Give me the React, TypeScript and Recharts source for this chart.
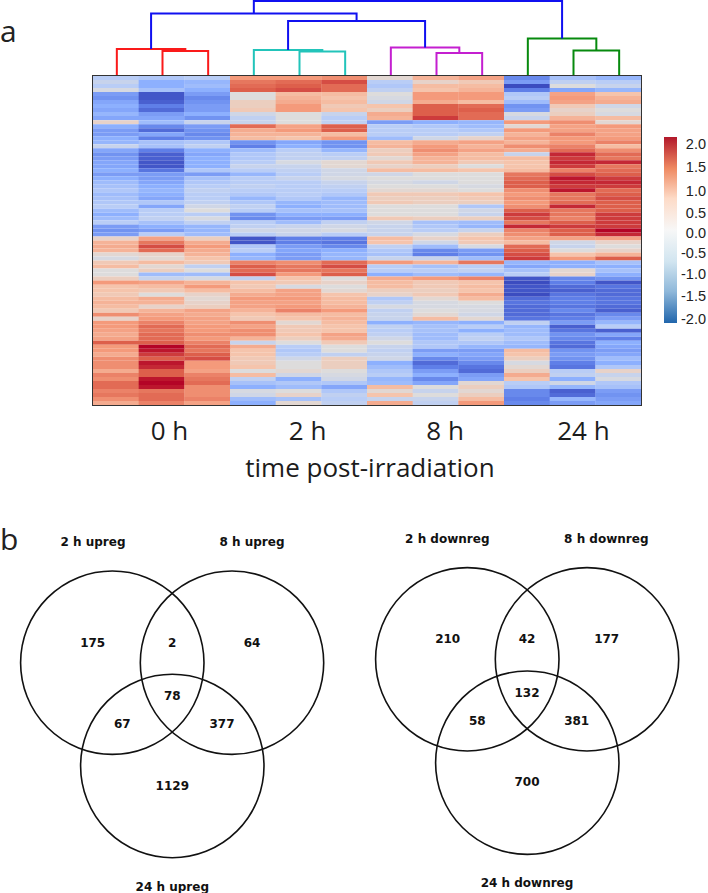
import React from 'react';
import { BarChart, Bar, Cell, LineChart, Line, ScatterChart, Scatter, XAxis, YAxis } from 'recharts';

// heatmap rows, top to bottom, three replicates per time point (z-score)
const values0h = [
  [-0.5,-0.6,-0.5],[-0.3,-1.0,-0.9],[-0.5,-1.0,-0.8],[-0.1,-0.7,-1.0],[-1.2,-1.9,-1.2],[-1.3,-1.9,-1.4],[-1.1,-1.8,-1.3],[-1.0,-1.5,-1.2],[-1.1,-1.7,-1.2],[-0.9,-1.2,-1.0],
  [-1.1,-1.1,-1.3],[0.2,-0.8,-0.3],[-1.0,-1.4,-1.2],[-1.2,-1.7,-1.3],[-1.2,-1.1,-1.4],[-1.0,-1.5,-1.3],[-0.9,-0.7,-0.6],[-0.3,-0.7,-0.4],[-1.1,-1.5,-1.0],[-1.3,-1.8,-1.1],
  [-1.2,-1.8,-1.0],[-1.1,-1.9,-1.0],[-1.1,-1.9,-1.0],[-1.0,-1.6,-0.6],[-1.2,-1.2,-1.2],[-1.0,-1.2,-0.7],[-0.8,-1.1,-0.6],[-0.7,-1.0,-0.5],[-0.6,-0.9,-0.4],[-0.8,-1.0,-0.5],
  [-0.7,-1.1,-0.5],[-0.6,-0.6,-0.4],[-0.5,-1.1,-0.2],[-0.8,-0.5,0],[-1.0,-0.5,-0.5],[-0.8,-0.4,-0.1],[-0.5,-0.7,-0.4],[-1.2,-1.0,-0.9],[-1.3,-1.2,-0.9],[-1.2,-0.5,-0.8],
  [0.2,0.9,0.3],[0.7,1.3,0.8],[0.8,1.6,1.0],[0.7,1.4,0.8],[0.1,0.2,0.7],[-0.1,0.1,0.5],[0.4,0.6,0.4],[0.6,0.1,-0.4],[0,0.3,0],[0,-0.8,-0.8],
  [0.3,-0.3,-0.1],[1.0,0.9,0.7],[0.5,0.6,1.0],[0.5,0.4,0.6],[0.4,0,0.2],[0.6,0.8,0.1],[0.7,0.7,0.2],[0.6,0.2,0.3],[0.4,0.7,0.9],[1.1,0.9,0.8],
  [0.2,1.0,0.9],[1.0,1.2,0.9],[1.0,1.4,1.0],[0.9,1.3,1.0],[0.8,1.4,1.1],[0.9,1.4,1.0],[1.5,1.5,1.2],[1.0,2.0,1.4],[1.0,1.9,1.3],[0.8,1.7,1.5],
  [1.1,1.5,1.6],[1.1,1.9,1.0],[1.1,1.8,1.0],[0.8,1.5,0.9],[1.2,1.5,1.2],[1.1,1.9,1.3],[1.4,2.0,1.4],[1.4,1.9,1.1],[1.2,1.3,1.1],[1.3,1.4,1.1],
  [1.1,1.4,1.2],[0.8,1.2,0.9],
];
const values2h = [
  [1.0,1.0,1.1],[1.3,1.4,1.6],[1.4,1.5,1.4],[1.5,1.6,1.4],[0,0.6,0.6],[0,0.7,0.5],[0.3,0.8,0.6],[0.3,1.0,0.4],[0.4,1.0,0.5],[-0.2,0,-0.3],
  [-0.4,0,-0.5],[-0.3,0,-0.4],[1.4,0.9,1.5],[0.8,1.0,1.5],[0.7,0.7,0.6],[0.6,0.5,1.0],[-1.3,-1.1,-1.3],[-1.5,-1.0,-1.3],[-0.8,-0.5,-0.9],[-0.6,-0.4,-0.5],
  [-0.6,-0.4,-0.4],[-0.5,-0.1,0.1],[-0.3,-0.3,0.1],[-0.5,-0.4,-0.2],[-0.9,-0.5,-0.2],[-0.5,-0.3,-0.1],[-0.5,-0.5,-0.3],[-0.4,-0.5,-0.4],[-0.5,-0.5,-0.5],[-0.6,-0.5,-0.6],
  [-0.9,-0.6,-0.9],[-0.6,-0.9,-0.8],[-0.4,-1.0,-0.8],[-0.5,-0.7,-0.7],[-1.3,-1.0,-1.0],[-1.4,-1.2,-1.2],[-0.5,-0.8,-0.4],[-0.4,-0.3,-0.2],[-0.2,-0.2,-0.1],[-0.5,-0.3,-0.5],
  [-1.9,-1.5,-1.5],[-1.9,-1.5,-1.6],[-0.6,-1.2,-1.4],[-0.5,-1.1,-1.0],[-1.0,-1.2,-0.9],[-0.9,-1.2,-0.9],[1.2,1.1,1.4],[1.5,1.3,1.6],[1.4,1.3,1.3],[1.6,1.0,1.5],
  [-0.4,0.5,0],[0.5,0.4,0.2],[0.4,-0.1,0],[0.6,0.9,0.1],[0.8,0.9,0.5],[1.0,1.0,0.6],[0.9,0.9,0.6],[0.9,1.0,0.7],[0.7,1.2,1.0],[0.5,0.6,0.6],
  [0.4,0.5,0.7],[1.1,0.1,0.6],[0.9,0.4,0.5],[1.1,0.4,0.5],[1.1,0.5,0.9],[0.7,0.3,0.8],[-0.3,0,0.4],[0.8,-0.5,0],[0.5,-0.6,0],[0.5,-0.5,-0.4],
  [0.4,-0.2,0.3],[0.4,0,0.3],[0.5,0,0.3],[0,0.1,0],[0.6,-0.2,-0.1],[-0.4,-1.0,-0.2],[-0.7,-0.6,-0.6],[-1.0,-0.8,-1.1],[-0.1,0,-0.6],[-0.2,0.2,-0.4],
  [-0.8,-0.7,-0.5],[-1.0,0.1,-0.4],
];
const values8h = [
  [0.1,0.7,0.9],[-0.5,0.2,0.4],[-0.6,0.6,0.6],[-0.4,0.5,0.7],[0,1.0,1.0],[-0.1,1.0,1.0],[-0.2,0.8,0.6],[0.5,1.5,1.4],[0.3,1.5,1.5],[0.8,1.5,1.4],
  [0.7,1.7,1.4],[-1.2,-1.0,-0.9],[-0.5,-0.6,-0.8],[-0.5,-0.5,-0.6],[-0.5,-0.5,-0.4],[-0.8,-0.2,0.2],[0.6,0.8,0.9],[0.7,1.0,0.7],[0.3,1.1,0.9],[0.4,0.9,0.6],
  [0.1,0.7,0.6],[0.4,0.7,0.4],[0.2,0.3,0],[0.6,0.6,0.5],[-0.2,0,0],[0,0,0],[-0.1,-0.2,0],[0,0,-0.1],[0.1,0.1,0],[0.4,0.4,0.5],
  [0.3,0.3,0.4],[0.4,0.3,0.3],[0,0,-0.6],[0,0,-0.2],[0,0,-0.3],[0.4,0.3,0.3],[-0.2,-0.7,-0.8],[-0.3,-0.6,-0.9],[-0.3,-0.5,-0.3],[-0.3,-0.1,0.3],
  [0.6,0.2,0.5],[0.5,-0.2,0.4],[-0.4,-0.8,-0.1],[-0.6,-1.4,-1.2],[-0.7,-1.5,-1.3],[-0.3,-0.3,-0.8],[1.0,0.7,1.3],[-0.5,-0.7,-0.5],[-0.5,-0.5,-0.4],[-1.0,-0.8,-0.9],
  [0.8,1.0,1.2],[0.6,0.4,0.5],[0.6,0.4,0.6],[0.3,0.3,0.5],[0.2,0.4,0.8],[-0.6,0.1,0.6],[-0.4,-0.1,0],[-0.1,-0.1,-0.1],[-0.4,0,-0.1],[-0.3,0.1,-0.2],
  [-0.3,0.6,0.1],[-1.0,-0.9,-1.0],[-0.4,-0.7,-0.5],[-0.5,-0.7,-1.0],[-0.4,-0.8,-0.5],[-0.2,-0.8,-0.4],[0,-0.6,-0.6],[-0.3,-0.6,-0.9],[-0.4,-1.2,-1.2],[-0.3,-1.0,-1.1],
  [-0.2,-1.4,-1.2],[-1.0,-1.7,-1.4],[-0.8,-1.5,-1.6],[-0.6,-1.2,-1.7],[-0.5,-1.0,-1.2],[-0.9,-1.4,-1.1],[-0.8,-1.1,0.1],[0.6,0,0.3],[0.1,-0.3,0.1],[0.5,0,0.3],
  [-0.3,-0.3,0.6],[0.8,-0.4,1.0],
];
const values24h = [
  [-1.4,-0.7,-0.9],[-1.2,-0.4,-0.5],[-2.0,0,-0.3],[-1.5,-1.1,-0.9],[-0.6,0.9,0.5],[-0.5,1.0,0.7],[-0.8,0.9,0.8],[-1.3,0.4,-0.2],[-1.2,0.2,0],[-0.1,0.3,-0.1],
  [-0.3,0.7,0.6],[1.0,1.1,0.1],[0.1,0.9,1.0],[1.0,0.9,0.9],[0.7,1.2,0.9],[0.9,1.0,1.0],[0.7,1.0,1.2],[1.1,1.2,0.6],[0.8,1.4,1.1],[-0.3,1.8,1.4],
  [0.6,1.7,1.3],[0.5,1.8,1.8],[0.5,1.7,1.3],[0.6,1.2,1.4],[1.3,1.6,1.5],[1.4,1.9,1.7],[1.5,1.8,1.8],[1.5,1.7,1.7],[1.1,1.9,1.4],[1.0,1.3,1.5],
  [1.1,1.3,1.6],[1.0,1.4,1.5],[1.1,1.8,1.5],[1.5,1.3,1.5],[1.7,1.3,1.7],[1.6,1.2,1.7],[1.3,1.5,1.7],[1.8,1.7,1.7],[1.2,1.5,2.0],[1.1,1.5,1.8],
  [0.9,0.9,0.9],[0.6,-0.2,0.2],[1.4,-0.3,0],[1.5,0,0.2],[1.6,0.5,0.7],[1.7,1.0,1.5],[-0.9,-1.0,-0.7],[-1.1,-1.0,-1.0],[-0.7,0.1,-0.7],[-0.5,0.2,-1.0],
  [-1.9,-1.4,-1.3],[-2.0,-1.5,-1.9],[-1.9,-1.7,-1.6],[-1.9,-1.8,-1.7],[-2.0,-1.6,-1.7],[-1.7,-1.5,-1.6],[-1.6,-1.5,-1.6],[-1.7,-1.6,-1.7],[-1.7,-1.4,-1.8],[-1.7,-1.6,-1.4],
  [-1.6,-1.5,-1.2],[-0.4,-1.2,-0.9],[-0.9,-1.8,-0.5],[-0.8,-1.6,-1.8],[-0.8,-1.3,-1.1],[-0.6,-1.4,-1.5],[-0.8,-1.6,-1.0],[-0.9,-1.7,-1.1],[0.6,-1.3,-1.2],[0.5,-1.2,-1.1],
  [0.3,-1.3,-0.8],[-0.1,-1.5,-1.0],[0.1,-1.6,-0.6],[0.3,-0.5,0.2],[0.8,-0.4,-0.3],[0.5,-1.0,-0.1],[-0.5,-0.2,-0.6],[-0.6,-0.9,-0.7],[-1.4,-1.8,-1.2],[-1.4,-1.7,-1.3],
  [-1.5,-0.9,-1.2],[-1.4,-1.2,-1.1],
];

const samples = ['0h-1','0h-2','0h-3','2h-1','2h-2','2h-3','8h-1','8h-2','8h-3','24h-1','24h-2','24h-3'];
const groupLabels = ['0 h', '2 h', '8 h', '24 h'];
const groupTicks = [1.675, 4.7, 7.71, 10.74];

const heatStops: Array<[number, number[]]> = [
  [-2.0, [59, 76, 192]],
  [-1.5, [95, 127, 232]],
  [-1.0, [141, 176, 254]],
  [-0.5, [185, 205, 246]],
  [0, [221, 220, 220]],
  [0.5, [245, 196, 172]],
  [1.0, [244, 154, 123]],
  [1.5, [221, 95, 75]],
  [2.0, [180, 4, 38]],
];

// dendrogram links, x in column units, y is height above the heatmap
const redLinks = [
  [{ x: 1.5, y: 0 }, { x: 1.5, y: 25 }, { x: 2.5, y: 25 }, { x: 2.5, y: 0 }],
  [{ x: 0.5, y: 0 }, { x: 0.5, y: 27 }, { x: 2, y: 27 }, { x: 2, y: 25 }],
];
const tealLinks = [
  [{ x: 4.5, y: 0 }, { x: 4.5, y: 24.5 }, { x: 5.5, y: 24.5 }, { x: 5.5, y: 0 }],
  [{ x: 3.5, y: 0 }, { x: 3.5, y: 26 }, { x: 5, y: 26 }, { x: 5, y: 24.5 }],
];
const purpleLinks = [
  [{ x: 7.5, y: 0 }, { x: 7.5, y: 23 }, { x: 8.5, y: 23 }, { x: 8.5, y: 0 }],
  [{ x: 6.5, y: 0 }, { x: 6.5, y: 28.5 }, { x: 8, y: 28.5 }, { x: 8, y: 23 }],
];
const greenLinks = [
  [{ x: 10.5, y: 0 }, { x: 10.5, y: 25.5 }, { x: 11.5, y: 25.5 }, { x: 11.5, y: 0 }],
  [{ x: 9.5, y: 0 }, { x: 9.5, y: 37.5 }, { x: 11, y: 37.5 }, { x: 11, y: 25.5 }],
];
const blueLinks = [
  [{ x: 4.25, y: 26 }, { x: 4.25, y: 55 }, { x: 7.25, y: 55 }, { x: 7.25, y: 28.5 }],
  [{ x: 1.25, y: 27 }, { x: 1.25, y: 62.5 }, { x: 5.75, y: 62.5 }, { x: 5.75, y: 55 }],
  [{ x: 3.5, y: 62.5 }, { x: 3.5, y: 75 }, { x: 10.25, y: 75 }, { x: 10.25, y: 37.5 }],
];

const colorbarRange = [{ name: 'z', range: [-2.09, 2.16] }];
const colorbarTicks = [2, 1.5, 1, 0.5, 0, -0.5, -1, -1.5, -2];
const colorbarStops = [
  ['0%', '#b2182b'], ['17%', '#ef8a62'], ['33%', '#fddbc7'], ['50%', '#f7f7f7'],
  ['67%', '#d1e5f0'], ['83%', '#8fb8da'], ['100%', '#2166ac'],
];

const upCircles = [{ x: 112.3, y: 152.7 }, { x: 232, y: 152.7 }, { x: 172.3, y: 256 }];
const upLabels = [
  { x: 93, y: 31.7, text: '2 h upreg' }, { x: 252, y: 31.7, text: '8 h upreg' }, { x: 172.3, y: 376, text: '24 h upreg' },
  { x: 92.7, y: 132, text: '175' }, { x: 172.3, y: 132, text: '2' }, { x: 252, y: 132, text: '64' },
  { x: 172.3, y: 185.3, text: '78' }, { x: 122.3, y: 213.3, text: '67' }, { x: 222, y: 213.3, text: '377' },
  { x: 172.3, y: 275.3, text: '1129' },
];
const downCircles = [{ x: 113.3, y: 149.3 }, { x: 233, y: 149.3 }, { x: 173.3, y: 252.7 }];
const downLabels = [
  { x: 93.3, y: 28.3, text: '2 h downreg' }, { x: 252.3, y: 28.3, text: '8 h downreg' }, { x: 173, y: 372.3, text: '24 h downreg' },
  { x: 93.7, y: 128.7, text: '210' }, { x: 173, y: 128.7, text: '42' }, { x: 252.7, y: 128.7, text: '177' },
  { x: 173, y: 182, text: '132' }, { x: 123.3, y: 210.3, text: '58' }, { x: 222.7, y: 210.3, text: '381' },
  { x: 173, y: 271.7, text: '700' },
];

const rowCount = values0h.length;
const rowValues = values0h.map((_, i) => [...values0h[i], ...values2h[i], ...values8h[i], ...values24h[i]]);
const heatTable = samples.map((sample) => {
  const row: any = { sample };
  for (let i = 0; i < rowCount; i++) row['r' + i] = 1;
  return row;
});

function heatColor(v: number) {
  for (let i = 1; i < heatStops.length; i++) {
    const [v0, c0] = heatStops[i - 1];
    const [v1, c1] = heatStops[i];
    if (v <= v1) {
      const t = Math.max(0, (v - v0) / (v1 - v0));
      return `rgb(${c0.map((c, k) => Math.round(c + (c1[k] - c) * t)).join(',')})`;
    }
  }
  return 'rgb(180,4,38)';
}

function Dendrogram() {
  const groups: Array<[any[][], string]> = [
    [redLinks, '#fa1a1a'], [tealLinks, '#22c4ba'], [purpleLinks, '#c41fd0'], [greenLinks, '#078a0e'], [blueLinks, '#1010f0'],
  ];
  return (
    <LineChart width={548} height={76} margin={{ top: 0, right: 0, bottom: 0, left: 0 }}>
      <XAxis type="number" dataKey="x" domain={[0, 12]} hide />
      <YAxis type="number" dataKey="y" domain={[0, 76]} hide />
      {groups.map(([links, color], g) =>
        links.map((link, i) => (
          <Line key={`${g}-${i}`} data={link} dataKey="y" stroke={color} strokeWidth={2} dot={false} isAnimationActive={false} />
        ))
      )}
    </LineChart>
  );
}

function Heatmap() {
  return (
    <BarChart width={548} height={329} data={heatTable} barCategoryGap={0} barGap={0} margin={{ top: 0, right: 0, bottom: 0, left: 0 }}>
      <XAxis dataKey="sample" hide />
      <YAxis type="number" domain={[0, rowCount]} reversed hide />
      {rowValues.map((vals, r) => (
        <Bar key={r} dataKey={'r' + r} stackId="heat" isAnimationActive={false}>
          {vals.map((v, c) => <Cell key={c} fill={heatColor(v)} />)}
        </Bar>
      ))}
    </BarChart>
  );
}

function GroupAxis() {
  return (
    <ScatterChart width={548} height={84} margin={{ top: 0, right: 0, bottom: 0, left: 0 }}>
      <XAxis
        type="number"
        dataKey="x"
        domain={[0, 12]}
        ticks={groupTicks}
        tickFormatter={(v) => groupLabels[groupTicks.indexOf(v)]}
        axisLine={false}
        tickLine={false}
        height={80}
        tickMargin={7}
        interval={0}
        tick={{ fontSize: 26, fill: '#1c1c1c', fontFamily: 'Open Sans' }}
        label={{ value: 'time post-irradiation', position: 'insideBottom', dx: 3, offset: 12, fontSize: 26, fill: '#1c1c1c', fontFamily: 'Open Sans' }}
      />
      <YAxis type="number" dataKey="y" domain={[0, 1]} hide />
      <Scatter data={groupTicks.map((x) => ({ x, y: 0 }))} shape={() => null} isAnimationActive={false} />
    </ScatterChart>
  );
}

const tickNudge: Record<string, number> = { '1.5': 1, '1': 3.5, '0.5': 3, '0': 1.5, '-1': -1.5, '-1.5': -1 };

function ColorbarTick({ x, y, payload }: any) {
  return (
    <text x={42} y={y + (tickNudge[String(payload.value)] || 0)} dy={5} textAnchor="end" fontSize={14.5} fill="#222" fontFamily="Liberation Sans">
      {payload.value.toFixed(1)}
    </text>
  );
}

function Colorbar() {
  return (
    <BarChart width={44} height={196} data={colorbarRange} barCategoryGap={0} margin={{ top: 0, right: 0, bottom: 10, left: 0 }}>
      <defs>
        <linearGradient id="zbar" x1="0" y1="0" x2="0" y2="1">
          {colorbarStops.map(([offset, color]) => <stop key={offset} offset={offset} stopColor={color} />)}
        </linearGradient>
      </defs>
      <XAxis dataKey="name" hide />
      <YAxis
        type="number"
        orientation="right"
        domain={[-2.09, 2.16]}
        ticks={colorbarTicks}
        interval={0}
        width={31}
        axisLine={false}
        tickLine={false}
        tick={<ColorbarTick />}
      />
      <Bar dataKey="range" fill="url(#zbar)" isAnimationActive={false} />
    </BarChart>
  );
}

function Venn({ circles, labels }: { circles: any[]; labels: any[] }) {
  return (
    <ScatterChart width={354} height={383} margin={{ top: 0, right: 0, bottom: 0, left: 0 }}>
      <XAxis type="number" dataKey="x" domain={[0, 354]} hide />
      <YAxis type="number" dataKey="y" domain={[0, 383]} reversed hide />
      <Scatter
        data={circles}
        isAnimationActive={false}
        shape={(p: any) => <circle cx={p.cx} cy={p.cy} r={91.7} fill="none" stroke="#111" strokeWidth={1.6} />}
      />
      <Scatter
        data={labels}
        isAnimationActive={false}
        shape={(p: any) => (
          <text x={p.cx} y={p.cy} dy={4.5} textAnchor="middle" fontSize={12} fontWeight="bold" fill="#111" fontFamily="DejaVu Sans">
            {p.payload.text}
          </text>
        )}
      />
    </ScatterChart>
  );
}

const place = (left: number, top: number): React.CSSProperties => ({ position: 'absolute', left, top });

export default function App() {
  return (
    <div style={{ position: 'absolute', left: 0, top: 0, width: 708, height: 893, background: '#fff', overflow: 'hidden' }}>
      <div style={{ ...place(0, 10), fontFamily: 'Open Sans', fontSize: 30, color: '#222' }}>a</div>
      <div style={place(94.2, 0)}><Dendrogram /></div>
      <div style={place(93, 76)}><Heatmap /></div>
      <div style={{ ...place(92, 75), width: 548, height: 329, borderStyle: 'solid', borderColor: '#333', borderWidth: '1px 1.5px 1.5px 1.5px' }} />
      <div style={place(93, 405)}><GroupAxis /></div>
      <div style={place(664, 137)}><Colorbar /></div>
      <div style={{ ...place(0, 518), fontFamily: 'Open Sans', fontSize: 30, color: '#222' }}>b</div>
      <div style={place(0, 510)}><Venn circles={upCircles} labels={upLabels} /></div>
      <div style={place(354, 510)}><Venn circles={downCircles} labels={downLabels} /></div>
    </div>
  );
}
